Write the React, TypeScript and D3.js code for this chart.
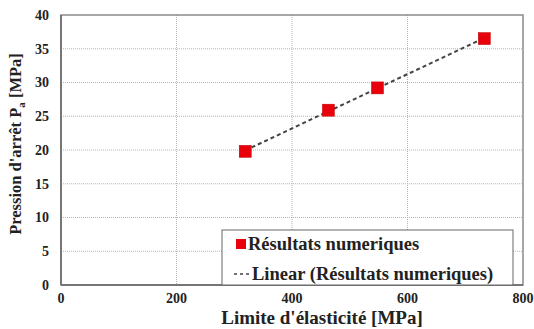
import React from "react";
import * as d3 from "d3";

const xValues = [319, 463, 548, 733];
const yValues = [19.8, 25.9, 29.2, 36.5];
const xTicks = [0, 200, 400, 600, 800];
const yTicks = [0, 5, 10, 15, 20, 25, 30, 35, 40];
const seriesName = "Résultats numeriques";
const trendName = "Linear (Résultats numeriques)";

export default function App() {
  const W = 534, H = 329;
  const left = 61, right = 523, top = 15, bottom = 285;
  const x = d3.scaleLinear().domain([0, 800]).range([left, right]);
  const y = d3.scaleLinear().domain([0, 40]).range([bottom, top]);

  const n = xValues.length;
  const mx = d3.mean(xValues)!, my = d3.mean(yValues)!;
  let sxy = 0, sxx = 0;
  for (let i = 0; i < n; i++) {
    sxy += (xValues[i] - mx) * (yValues[i] - my);
    sxx += (xValues[i] - mx) ** 2;
  }
  const slope = sxy / sxx;
  const icpt = my - slope * mx;
  const x0 = d3.min(xValues)!, x1 = d3.max(xValues)!;
  const line = d3.line<number>().x((d) => x(d)).y((d) => y(slope * d + icpt));

  const font = "Liberation Serif, DejaVu Serif, Times, serif";
  const sq = 12;

  return (
    <svg width={W} height={H} style={{ position: "absolute", left: 0, top: 0, fontFamily: font, fontWeight: 700 }}>
      <rect width={W} height={H} fill="#fff" />
      {yTicks.slice(1, -1).map((t) => (
        <line key={"gy" + t} x1={left} x2={right} y1={y(t)} y2={y(t)} stroke="#b5b5b5" strokeWidth={1} strokeDasharray="1 1" />
      ))}
      {xTicks.slice(1, -1).map((t) => (
        <line key={"gx" + t} x1={x(t)} x2={x(t)} y1={top} y2={bottom} stroke="#b5b5b5" strokeWidth={1} strokeDasharray="1 1" />
      ))}
      <rect x={left} y={top} width={right - left} height={bottom - top} fill="none" stroke="#8a8a8a" strokeWidth={1.5} />
      <line x1={left} x2={left} y1={top} y2={bottom} stroke="#666" strokeWidth={1.5} />
      <line x1={left} x2={right} y1={bottom} y2={bottom} stroke="#666" strokeWidth={1.5} />
      {yTicks.map((t) => (
        <text key={"ty" + t} x={49} y={y(t)} dy="0.35em" textAnchor="end" fontSize={14} fill="#222">{t}</text>
      ))}
      {xTicks.map((t) => (
        <text key={"tx" + t} x={x(t)} y={303} textAnchor="middle" fontSize={14} fill="#222">{t}</text>
      ))}
      <path d={line([x0, x1]) || ""} stroke="#444" strokeWidth={2} strokeDasharray="4 3" fill="none" />
      {xValues.map((v, i) => (
        <rect key={"p" + i} x={x(v) - sq / 2} y={y(yValues[i]) - sq / 2} width={sq} height={sq} fill="#e8000b" stroke="#c00000" strokeWidth={0.5} />
      ))}
      <g>
        <rect x={222} y={230} width={291} height={55} fill="#fff" stroke="#666" strokeWidth={1} />
        <rect x={236} y={239} width={10} height={10} fill="#e8000b" />
        <text x={248} y={250} fontSize={18.5} fill="#222">{seriesName}</text>
        <line x1={234} x2={250} y1={274} y2={274} stroke="#444" strokeWidth={1.5} strokeDasharray="3 3" />
        <text x={252} y={280} fontSize={18.5} fill="#222">{trendName}</text>
      </g>
      <text x={322} y={324} textAnchor="middle" fontSize={19} fill="#222">Limite d'élasticité [MPa]</text>
      <text transform={`translate(21,144) rotate(-90)`} textAnchor="middle" fontSize={16.5} fill="#222">
        Pression d'arrêt P<tspan fontSize={11} dy={4}>a</tspan><tspan dy={-4}> [MPa]</tspan>
      </text>
    </svg>
  );
}
